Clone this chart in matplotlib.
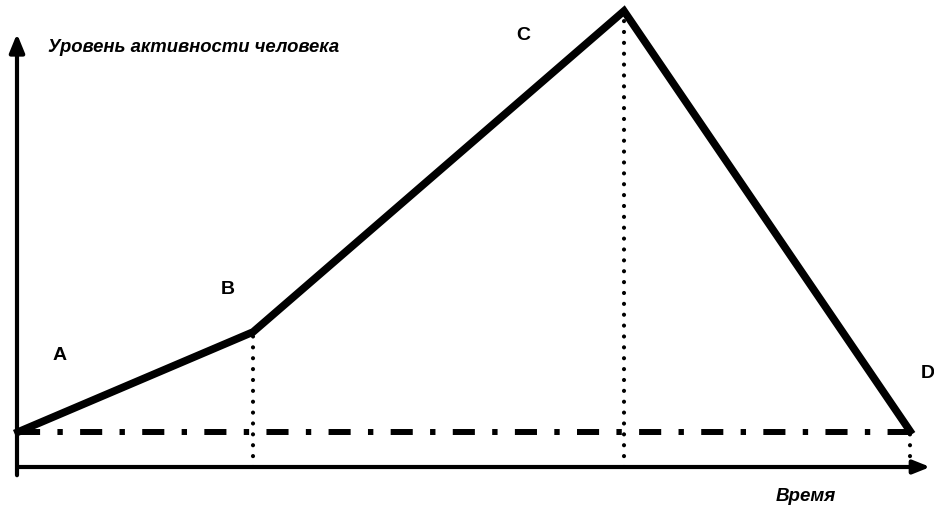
import matplotlib.pyplot as plt

# Punkte der Kurve (Zeit, Aktivität) -- Einheiten ~ Pixel über der Zeitachse
labels = ['A', 'B', 'C', 'D']
zeit = [1, 236, 607, 893]
aktivitaet = [35, 135, 456, 36]
basis = 35  # Grundniveau (Strich-Punkt-Linie)

fig = plt.figure(figsize=(9.34, 5.10), dpi=100)
ax = fig.add_axes([0, 0, 1, 1])
ax.set_xlim(-17, 917)
ax.set_ylim(-42, 468)
ax.axis('off')

# Achsen mit Pfeilen
ax.annotate('', xy=(0, 436), xytext=(0, -11), annotation_clip=False,
            arrowprops=dict(arrowstyle='-|>,head_length=1.1,head_width=0.45', lw=3, color='black'))
ax.annotate('', xy=(916, 0), xytext=(-2, 0), annotation_clip=False,
            arrowprops=dict(arrowstyle='-|>,head_length=1.0,head_width=0.4', lw=3, color='black'))

# Grundniveau
ax.plot([zeit[0], zeit[-1]], [basis, basis], color='black', lw=4.3,
        dashes=(3.7, 2.9, 0.9, 2.9), solid_capstyle='butt')

# gepunktete Senkrechten
for t, a in zip(zeit[1:], aktivitaet[1:]):
    ax.plot([t, t], [0, a], color='black', lw=3, linestyle=(0, (0.01, 2.6)),
            dash_capstyle='round')

# Kurve
ax.plot(zeit, aktivitaet, color='black', lw=5.5, solid_joinstyle='miter')

# Buchstaben
pos = [(43, 112), (211, 179), (506, 432), (911, 95)]
for s, (x, y) in zip(labels, pos):
    ax.text(x, y, s, fontsize=14, fontweight='bold', family='Liberation Sans',
            ha='center', va='center')

ax.text(31, 421, 'Уровень активности человека', fontsize=13.3, fontweight='bold',
        style='italic', family='Liberation Sans', ha='left', va='center')
ax.text(759, -29, 'Время', fontsize=13.5, fontweight='bold',
        style='italic', family='Liberation Sans', ha='left', va='center')

fig.savefig('out.png', dpi=100)
